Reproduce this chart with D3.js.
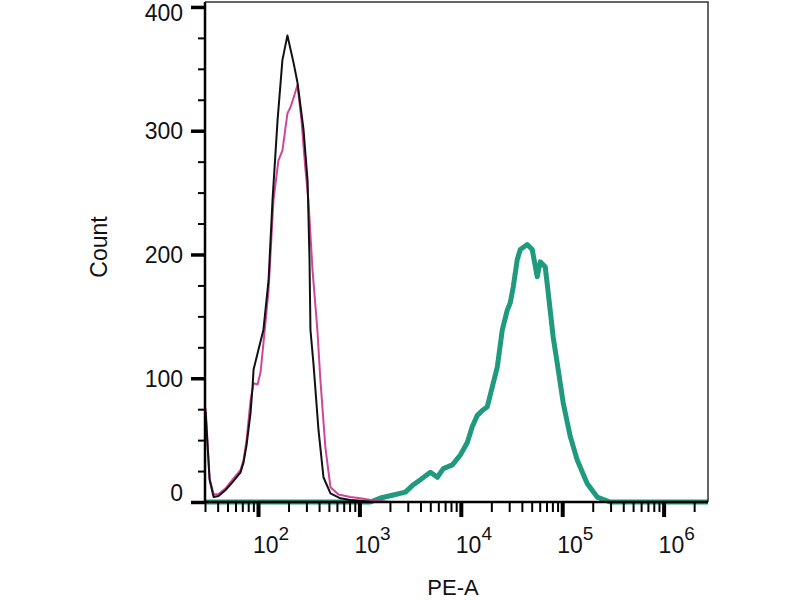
<!DOCTYPE html>
<html><head><meta charset="utf-8">
<script src="https://cdn.jsdelivr.net/npm/d3@7"></script>
<style>
html,body{margin:0;padding:0;background:#fff;}
svg{display:block;font-family:"Liberation Sans",Arial,sans-serif;}
</style></head>
<body>
<svg id="chart" width="800" height="600"></svg>
<script>
// Intensity (PE-A) and count values
const controlX = [30.4,33.3,36.5,40.8,47.9,56.1,67.3,72,77.1,84.4,88.3,90.4,101,113,127,139,156,174,195,224,245,281,308,322,329,352,395,442,518,650,815,1023,1300,2740000];
const controlY = [73,18,4,4.8,9.7,16,24,32,46,72,93,107,123,139,179,244,309,357,377,355,339,301,260,196,139,112,58,20,7,3,1.6,0.8,0,0];

const isotypeX = [30.4,33.3,36.5,40.8,47.9,56.1,67.3,72,77.1,84.4,90.4,99,106,113,127,142,159,174,195,209,229,245,268,294,314,345,385,412,462,518,622,815,1023,1290,1610,2000,2740000];
const isotypeY = [76,19,6,6.5,11,18,26,34,50,82,96,95,105,128,171,244,276,284,314,319,329,337,309,268,244,187,139,99,44,12,6,4,3,1.6,0.8,0,0];

const stainedX = [30.4,1283,1611,2163,2840,3404,3990,5010,5870,6720,8250,9890,11590,12980,14540,16290,18250,20440,22890,25640,28720,30750,32920,36040,38590,45190,50610,56690,60700,68000,72800,81500,91300,102300,120000,140600,176300,221200,297000,2740000];
const stainedY = [0,0,3.2,5.7,8,14,18,24,20,27,30,38,48,61,70,74,77,93,109,139,155,161,174,196,204,208,204,182,194,190,169,133,107,80,53,34,15,4,0,0];

const yMajor = [0,100,200,300,400];
const yMinor = [25,50,75,125,150,175,225,250,275,325,350,375];
const xMajor = [100,1000,10000,100000,1000000];
const xMajorExp = ["2","3","4","5","6"];
const xTitle = "PE-A";
const yTitle = "Count";

(function () {
const svg = d3.select("#chart");
const pLeft = 205, pRight = 708, pTop = 2, pBottom = 502;
const x = d3.scaleLog().domain([30, 2740000]).range([pLeft, pRight]);
const y = d3.scaleLinear().domain([0, 404]).range([pBottom, pTop]);

// minor x ticks
const xMinor = [];
for (let d = 10; d <= 1e6; d *= 10) {
  for (let k = 2; k <= 9; k++) {
    const v = k * d;
    if (v >= 30 && v <= 2740000) xMinor.push(v);
  }
}

// curves
const line = d3.line().x(d => x(d[0])).y(d => y(d[1]));
const zip = (a, b) => a.map((v, i) => [v, b[i]]);

const plot = svg.append("g");
plot.append("path").datum(zip(stainedX, stainedY)).attr("d", line)
  .attr("fill", "none").attr("stroke", "#1f9a7f").attr("stroke-width", 5)
  .attr("stroke-linejoin", "round");
plot.append("path").datum(zip(isotypeX, isotypeY)).attr("d", line)
  .attr("fill", "none").attr("stroke", "#cf4598").attr("stroke-width", 2)
  .attr("stroke-linejoin", "round");
plot.append("path").datum(zip(controlX, controlY)).attr("d", line)
  .attr("fill", "none").attr("stroke", "#111").attr("stroke-width", 2)
  .attr("stroke-linejoin", "round");

// frame (top/right)
svg.append("path")
  .attr("d", `M${pLeft},${pTop}H${pRight}V${pBottom}`)
  .attr("fill", "none").attr("stroke", "#333").attr("stroke-width", 1.5);

// x axis
const gxMinor = svg.append("g").attr("transform", `translate(0,${pBottom})`)
  .call(d3.axisBottom(x).tickValues(xMinor).tickSize(10).tickFormat(""));
gxMinor.select(".domain").remove();
gxMinor.selectAll(".tick line").attr("stroke", "#000").attr("stroke-width", 2);
const gxMajor = svg.append("g").attr("transform", `translate(0,${pBottom})`)
  .call(d3.axisBottom(x).tickValues(xMajor).tickSize(15).tickFormat(""));
gxMajor.select(".domain").attr("d", `M${pLeft},0H${pRight}`).attr("stroke", "#000").attr("stroke-width", 2.5);
gxMajor.selectAll(".tick line").attr("stroke", "#000").attr("stroke-width", 4);

// x labels
const xl = svg.append("g");
xMajor.forEach((v, i) => {
  const t = xl.append("text").attr("x", x(v) - 5).attr("y", 553)
    .attr("font-size", 23).attr("fill", "#111");
  t.append("tspan").text("10");
  t.append("tspan").attr("font-size", 19).attr("dy", -13).text(xMajorExp[i]);
});

// y axis
const gyMinor = svg.append("g").attr("transform", `translate(${pLeft},0)`)
  .call(d3.axisLeft(y).tickValues(yMinor).tickSize(7).tickFormat(""));
gyMinor.select(".domain").remove();
gyMinor.selectAll(".tick line").attr("stroke", "#000").attr("stroke-width", 2);
const gyMajor = svg.append("g").attr("transform", `translate(${pLeft},0)`)
  .call(d3.axisLeft(y).tickValues(yMajor).tickSize(14).tickFormat(""));
gyMajor.select(".domain").attr("d", `M0,${pTop}V${pBottom}`).attr("stroke", "#000").attr("stroke-width", 2.5);
gyMajor.selectAll(".tick line").attr("stroke", "#000").attr("stroke-width", 3.5);

// y labels
svg.append("g").selectAll("text").data(yMajor).join("text")
  .attr("x", 183)
  .attr("y", d => d === 0 ? y(d) - 9 : (d === 400 ? y(d) + 6 : y(d)))
  .attr("dy", "0.36em")
  .attr("text-anchor", "end").attr("font-size", 23).attr("fill", "#111")
  .text(d => d);

// titles
svg.append("text").attr("x", 453).attr("y", 595).attr("text-anchor", "middle")
  .attr("font-size", 22).attr("fill", "#111").text(xTitle);
svg.append("text").attr("transform", "translate(107,247) rotate(-90)")
  .attr("text-anchor", "middle").attr("font-size", 23).attr("fill", "#111").text(yTitle);
})();
</script>
</body></html>
